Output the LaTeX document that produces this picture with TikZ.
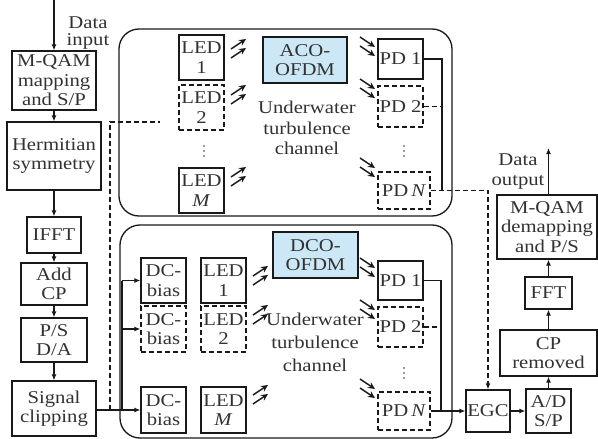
\documentclass[tikz,border=0pt]{standalone}
\usepackage{fontspec}
\setmainfont{Liberation Serif}[FakeStretch=1.15]
\usetikzlibrary{arrows.meta}
\definecolor{txt}{RGB}{50,50,50}
\definecolor{ln}{RGB}{25,25,25}
\definecolor{chan}{RGB}{204,232,246}
\newcommand\bx[7][]{\node[box,#1,minimum width={#5-#3},minimum height={#6-#4}] (#2) at ({(#3+#5)/2},{(#4+#6)/2}) {#7};}
\newcommand\emitup[2]{\draw[earr] (#1,#2) -- ++(15,-10); \draw[earr] (#1,#2+9) -- ++(15,-10);}
\newcommand\emitdn[2]{\draw[earr] (#1,#2) -- ++(15,10); \draw[earr] (#1,#2+9) -- ++(15,10);}
\newcommand\vdts[2]{\fill[txt] (#1,#2-5) circle (0.8) (#1,#2) circle (0.8) (#1,#2+5) circle (0.8);}
\begin{document}
\begin{tikzpicture}[x=1pt,y=-1pt,
  box/.style={draw=ln,line width=1.2pt,inner sep=0pt,align=center,text=txt,font=\fontsize{18}{19.5}\selectfont},
  dbox/.style={box,dash pattern=on 5pt off 3pt},
  lbl/.style={inner sep=0pt,align=center,text=txt,font=\fontsize{18}{21}\selectfont},
  chbox/.style={draw=ln,line width=1.3pt,rounded corners=20pt,inner sep=0pt},
  line/.style={draw=ln,line width=1.2pt},
  dline/.style={draw=ln,line width=1.2pt,dash pattern=on 5pt off 3pt},
  arr/.style={draw=ln,line width=1.2pt,-{Latex[length=6pt,width=5pt]}},
  earr/.style={draw=ln,line width=1.4pt,-{Stealth[length=7pt,width=6.5pt]}}]
\useasboundingbox (0,0) rectangle (598,439);
% channel frames
\node[chbox,minimum width=333,minimum height=187] (topch) at (285.5,122.5) {};
\node[chbox,minimum width=332,minimum height=213] (botch) at (286,331.5) {};
% transmitter column
\coordinate (din) at (54,0);
\node[lbl,font=\fontsize{18}{17.5}\selectfont] (dintxt) at (88,33) {Data\\input};
\bx{mqam}{12}{51}{96}{110}{M-QAM\\mapping\\and S/P}
\bx{herm}{7}{122}{101}{190}{Hermitian\\symmetry}
\bx{ifft}{27}{217}{81}{253}{IFFT}
\bx{addcp}{21}{263}{87}{305}{Add\\CP}
\bx{ps}{21}{318}{87}{362}{P/S\\D/A}
\bx{clip}{12}{381}{96}{436}{Signal\\clipping}
\draw[arr] (din) -- (mqam.north);
\draw[arr] (mqam.south) -- (herm.north);
\draw[arr] (herm.south) -- (ifft.north);
\draw[arr] (ifft.south) -- (addcp.north);
\draw[arr] (addcp.south) -- (ps.north);
\draw[arr] (ps.south) -- (clip.north);
% top channel (ACO-OFDM)
\bx{tled1}{179}{35}{224}{80}{LED\\1}
\bx[dbox]{tled2}{179}{85}{224}{130}{LED\\2}
\vdts{204}{151}
\bx{tledm}{179}{168}{224}{213}{LED\\\textit{M}}
\bx[fill=chan]{aco}{263}{37}{347}{83}{ACO-\\OFDM}
\node[lbl,font=\fontsize{18}{20.5}\selectfont] (tuw) at (307,128) {Underwater\\turbulence\\channel};
\bx{tpd1}{378}{39}{423}{79}{PD 1}
\bx[dbox]{tpd2}{378}{86}{423}{127}{PD 2}
\vdts{404}{151}
\bx[dbox]{tpdn}{378}{172}{430}{209}{PD\,\textit{N}}
\emitup{231}{49}
\emitup{231}{95}
\emitup{231}{177}
\emitdn{360}{37}
\emitdn{360}{79}
\emitdn{360}{158}
% bottom channel (DCO-OFDM)
\bx{dc1}{141}{258}{186}{303}{DC-\\bias}
\bx[dbox]{dc2}{141}{306}{186}{352}{DC-\\bias}
\bx{dcm}{141}{387}{186}{433}{DC-\\bias}
\bx{bled1}{201}{258}{246}{303}{LED\\1}
\bx[dbox]{bled2}{201}{306}{246}{352}{LED\\2}
\bx{bledm}{201}{387}{246}{433}{LED\\\textit{M}}
\bx[fill=chan]{dco}{273}{232}{358}{278}{DCO-\\OFDM}
\node[lbl,font=\fontsize{18}{23}\selectfont] (buw) at (315,342) {Underwater\\turbulence\\channel};
\bx{bpd1}{378}{261}{423}{300}{PD 1}
\bx[dbox]{bpd2}{378}{307}{423}{347}{PD 2}
\vdts{404}{373}
\bx[dbox]{bpdn}{378}{392}{430}{430}{PD\,\textit{N}}
\emitup{253}{276}
\emitup{253}{315}
\emitup{253}{395}
\emitdn{360}{258}
\emitdn{360}{300}
\emitdn{360}{379}
% receiver column
\bx{egc}{466}{390}{510}{432}{EGC}
\bx{ad}{526}{389}{571}{433}{A/D\\S/P}
\bx{cprem}{500}{330}{597}{376}{CP\\removed}
\bx{fft}{525}{277}{572}{309}{FFT}
\bx{demap}{497}{195}{597}{259}{M-QAM\\demapping\\and P/S}
\coordinate (dout) at (548.5,148);
\node[lbl,font=\fontsize{18}{20}\selectfont] (douttxt) at (518,172) {Data\\output};
\draw[arr] (egc.east) -- (ad.west);
\draw[arr] (ad.north) -- (ad.north |- cprem.south);
\draw[arr] (fft.south |- cprem.north) -- (fft.south);
\draw[arr] (fft.north) -- (fft.north |- demap.south);
\draw[arr] (fft.north |- demap.north) -- (dout);
% transmitter to channels
\coordinate (bus) at (122,280.5);
\coordinate (cj) at (110,410);
\coordinate (ledfeed) at (160,122);
\draw[arr] (clip.east |- dcm.west) -- (dcm.west);
\draw[draw=ln,line width=2pt] (bus) -- (bus |- dcm.west);
\draw[arr] (bus) -- (dc1.west);
\draw[arr] (bus |- dc2.west) -- (dc2.west);
\draw[dline] (cj) |- (ledfeed);
% top collector
\coordinate (tbus) at (442,190.5);
\draw[line] (tpd1.east) -| (tbus);
\draw[dline] (tpd2.east) -- (tpd2.east -| tbus);
\draw[dline,-{Latex[length=6pt,width=5pt]}] (tpdn.east) -| (egc.north);
% bottom collector
\coordinate (bbus) at (441,411);
\draw[line] (bpd1.east) -| (bbus);
\draw[dline] (bpd2.east) -- (bpd2.east -| bbus);
\draw[arr] (bpdn.east) -- (egc.west);
\end{tikzpicture}
\end{document}
